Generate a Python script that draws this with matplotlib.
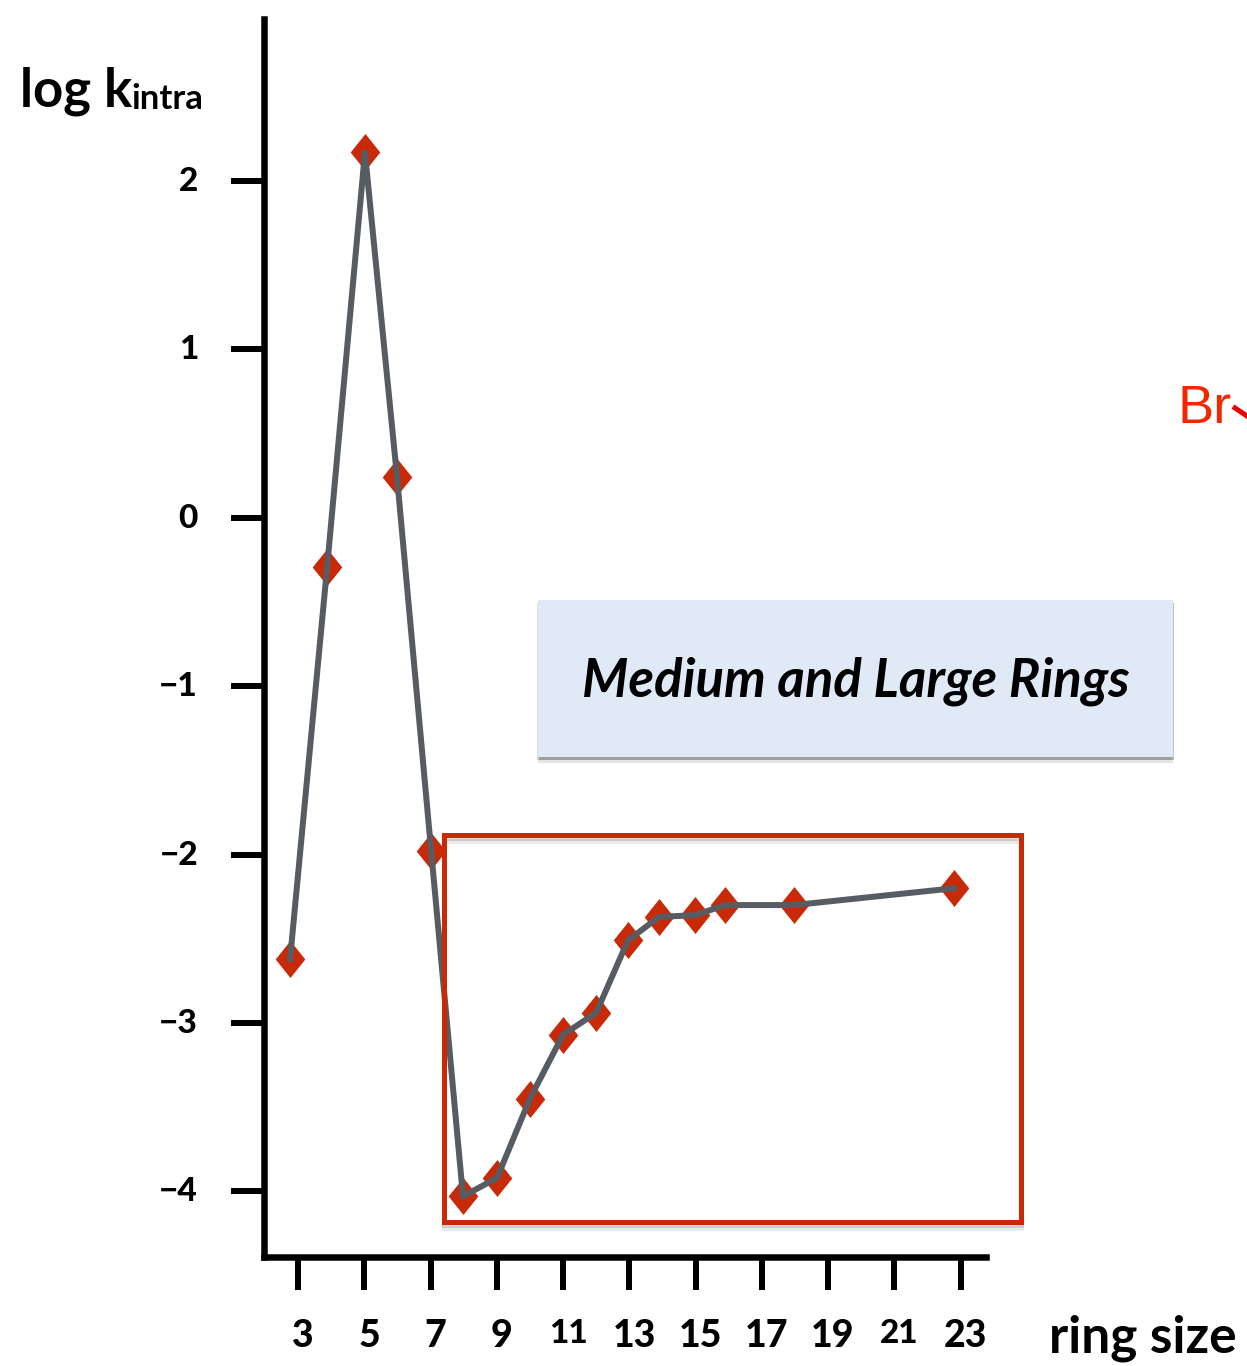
from matplotlib import pyplot as plt
from matplotlib import patheffects as pe
from matplotlib.patches import Rectangle
from matplotlib.transforms import ScaledTranslation

W, H = 1247, 1366

ring_size = [2.76, 3.88, 5.02, 5.99, 7.02, 7.98, 9.01, 10.0, 11.0, 12.0, 12.96, 13.9, 14.99, 15.89, 17.98, 22.81]
log_k = [-2.62, -0.29, 2.17, 0.24, -1.98, -4.03, -3.92, -3.45, -3.07, -2.94, -2.51, -2.37, -2.36, -2.30, -2.30, -2.20]

x_ticks = [3, 5, 7, 9, 11, 13, 15, 17, 19, 21, 23]
y_ticks = [2, 1, 0, -1, -2, -3, -4]
y_labels = ['2', '1', '0', '\u22121', '\u22122', '\u22123', '\u22124']

FONT = 'Lato'
RED = '#c82a08'
GRAY = '#575c63'


def px(size):
    # pixels to points at dpi 100
    return size * 0.72


def fx(x):
    return x / W


def fy(y):
    return 1 - y / H


plt.rcParams['font.family'] = FONT
fig = plt.figure(figsize=(W / 100, H / 100), dpi=100)
ax = fig.add_axes([fx(264), fy(1257), fx(989 - 264), (1257 - 16) / H])
ax.set_xlim(1.973, 23.86)
ax.set_ylim(-4.39, 2.98)

for side in ['top', 'right']:
    ax.spines[side].set_visible(False)
for side in ['left', 'bottom']:
    ax.spines[side].set_linewidth(px(6.5))
    ax.spines[side].set_capstyle('projecting')
# projecting caps run past the end, pull the far ends back
ax.spines['left'].set_bounds(-4.39, 2.96)
ax.spines['bottom'].set_bounds(1.973, 23.77)

ax.set_xticks(x_ticks)
ax.set_xticklabels([str(t) for t in x_ticks], fontsize=27, fontweight='black')
ax.set_yticks(y_ticks)
ax.set_yticklabels(y_labels, fontsize=24, fontweight='black')
ax.tick_params(axis='x', length=px(33), width=px(6), pad=px(27))
ax.tick_params(axis='y', length=px(33), width=px(6), pad=px(33))

# the numerals in the original sit a bit to the right and lower
shift = ScaledTranslation(5 / 100, -2 / 100, fig.dpi_scale_trans)
for lab in ax.get_xticklabels():
    lab.set_transform(lab.get_transform() + shift)
    if lab.get_text() in ['11', '21']:
        lab.set_fontsize(24)
shift_y = ScaledTranslation(0, 2 / 100, fig.dpi_scale_trans)
for lab in ax.get_yticklabels():
    lab.set_transform(lab.get_transform() + shift_y)

# diamonds below the line, line on top
diamond = [(0, 1), (0.8, 0), (0, -1), (-0.8, 0), (0, 1)]
ax.plot(ring_size, log_k, ls='none', marker=diamond, ms=px(37), color=RED, mew=0, zorder=4, clip_on=False)
ax.plot(ring_size, log_k, color=GRAY, lw=px(6), zorder=5, clip_on=False)

blue_box = Rectangle((fx(538), fy(757)), fx(1173 - 538), (757 - 600) / H, transform=fig.transFigure,
                     facecolor='#dfeaf6', edgecolor='none', zorder=2,
                     path_effects=[pe.SimplePatchShadow(offset=(0, -4), shadow_rgbFace='#555555', alpha=0.15),
                                   pe.SimplePatchShadow(offset=(1, -2), shadow_rgbFace='#555555', alpha=0.35),
                                   pe.SimplePatchShadow(offset=(-1, -2), shadow_rgbFace='#555555', alpha=0.2),
                                   pe.Normal()])
fig.add_artist(blue_box)

red_box = Rectangle((fx(443.5), fy(1222)), fx(1021 - 443.5), (1222 - 835) / H, transform=fig.transFigure,
                    facecolor='none', edgecolor=RED, lw=px(5), zorder=3,
                    path_effects=[pe.SimpleLineShadow(offset=(0, -4), shadow_color='#555555', alpha=0.12),
                                  pe.SimpleLineShadow(offset=(0, -2), shadow_color='#555555', alpha=0.2),
                                  pe.Normal()])
fig.add_artist(red_box)

fig.text(fx(855.5), fy(696), 'Medium and Large Rings', fontsize=38, fontweight='bold', style='italic',
         ha='center', va='baseline', zorder=6)
fig.text(fx(20), fy(106), 'log k', fontsize=38, fontweight='bold', ha='left', va='baseline')
fig.text(fx(131), fy(109), 'intra', fontsize=25, fontweight='bold', ha='left', va='baseline')
fig.text(fx(1049), fy(1353), 'ring size', fontsize=37, fontweight='bold', ha='left', va='baseline')

# cut-off fragment at the right edge
fig.text(fx(1177), fy(423), 'Br', fontsize=39, family='Liberation Sans', color='#f02800', ha='left', va='baseline')
fig.add_artist(plt.Line2D([fx(1235), fx(1250)], [fy(408), fy(418)], transform=fig.transFigure,
                          color='#ee0000', lw=px(5)))

fig.savefig('out.png', dpi=100)
